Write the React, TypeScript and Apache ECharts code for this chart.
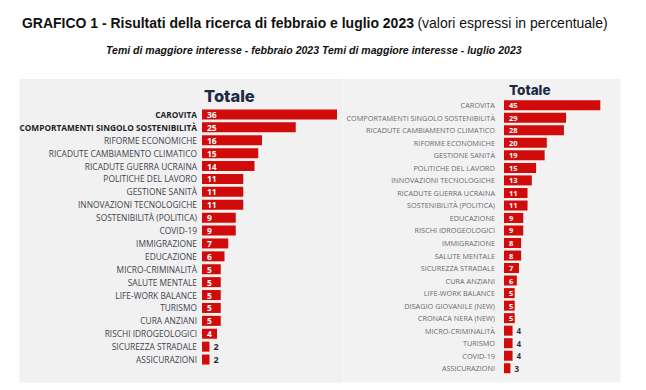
import React, { useEffect, useRef } from 'react';
import * as echarts from 'echarts';

const titleBold = 'GRAFICO 1 - Risultati della ricerca di febbraio e luglio 2023';
const titleNormal = '(valori espressi in percentuale)';
const subtitle = 'Temi di maggiore interesse - febbraio 2023 Temi di maggiore interesse - luglio 2023';
const panelTitle = 'Totale';

const leftCategories = [
  'CAROVITA', 'COMPORTAMENTI SINGOLO SOSTENIBILITÀ', 'RIFORME ECONOMICHE', 'RICADUTE CAMBIAMENTO CLIMATICO',
  'RICADUTE GUERRA UCRAINA', 'POLITICHE DEL LAVORO', 'GESTIONE SANITÀ', 'INNOVAZIONI TECNOLOGICHE',
  'SOSTENIBILITÀ (POLITICA)', 'COVID-19', 'IMMIGRAZIONE', 'EDUCAZIONE', 'MICRO-CRIMINALITÀ',
  'SALUTE MENTALE', 'LIFE-WORK BALANCE', 'TURISMO', 'CURA ANZIANI', 'RISCHI IDROGEOLOGICI',
  'SICUREZZA STRADALE', 'ASSICURAZIONI',
];
const leftValues = [36, 25, 16, 15, 14, 11, 11, 11, 9, 9, 7, 6, 5, 5, 5, 5, 5, 4, 2, 2];
const leftHighlighted = ['CAROVITA', 'COMPORTAMENTI SINGOLO SOSTENIBILITÀ'];

const rightCategories = [
  'CAROVITA', 'COMPORTAMENTI SINGOLO SOSTENIBILITÀ', 'RICADUTE CAMBIAMENTO CLIMATICO', 'RIFORME ECONOMICHE',
  'GESTIONE SANITÀ', 'POLITICHE DEL LAVORO', 'INNOVAZIONI TECNOLOGICHE', 'RICADUTE GUERRA UCRAINA',
  'SOSTENIBILITÀ (POLITICA)', 'EDUCAZIONE', 'RISCHI IDROGEOLOGICI', 'IMMIGRAZIONE', 'SALUTE MENTALE',
  'SICUREZZA STRADALE', 'CURA ANZIANI', 'LIFE-WORK BALANCE', 'DISAGIO GIOVANILE (NEW)',
  'CRONACA NERA (NEW)', 'MICRO-CRIMINALITÀ', 'TURISMO', 'COVID-19', 'ASSICURAZIONI',
];
const rightValues = [45, 29, 28, 20, 19, 15, 13, 11, 11, 9, 9, 8, 8, 7, 6, 5, 5, 5, 4, 4, 4, 3];

const RED = '#d10a0a';
const NAVY = '#1e2a44';
const LABEL_FONT = "'Open Sans', 'Noto Sans', sans-serif";
const TITLE_FONT = "'Liberation Sans', Arial, sans-serif";

// grid geometry
const L = { left: 202, top: 108, width: 150, height: 258, max: 40 };
const R = { left: 504, top: 99, width: 107, height: 275.5, max: 50 };

function barData(values: number[], pxPerUnit: number, fontSize: number) {
  return values.map((v) => {
    const inside = v * pxPerUnit >= 10;
    return {
      value: v,
      label: inside
        ? { position: 'insideLeft', distance: 5, color: '#ffffff', fontSize, fontWeight: 'bold' }
        : { position: 'right', distance: 4, color: '#2a3048', fontSize: fontSize + 0.5, fontWeight: 'bold' },
    };
  });
}

export default function App() {
  const ref = useRef<HTMLDivElement>(null);
  useEffect(() => {
    document.body.style.margin = '0';
    if (!ref.current) return;
    const chart = echarts.init(ref.current, undefined, { renderer: 'svg' });
    chart.setOption({
      animation: false,
      backgroundColor: '#ffffff',
      graphic: [
        { type: 'rect', z: -10, silent: true, shape: { x: 19.5, y: 79, width: 324, height: 303.5 }, style: { fill: '#f1f1f1' } },
        { type: 'rect', z: -10, silent: true, shape: { x: 343.5, y: 79, width: 277, height: 303.5 }, style: { fill: '#f2f2f2' } },
        {
          type: 'text', x: 22, y: 23, scaleX: 0.932,
          style: {
            text: `{b|${titleBold}} {n|${titleNormal}}`,
            verticalAlign: 'middle',
            rich: {
              b: { fontFamily: TITLE_FONT, fontWeight: 'bold', fontSize: 15, fill: '#111' },
              n: { fontFamily: TITLE_FONT, fontWeight: 'normal', fontSize: 15, fill: '#111' },
            },
          },
        },
        {
          type: 'text', x: 106, y: 50, scaleX: 0.916,
          style: {
            text: subtitle,
            verticalAlign: 'middle',
            fontFamily: TITLE_FONT,
            fontStyle: 'italic',
            fontWeight: 'bold',
            fontSize: 11.5,
            fill: '#111',
          },
        },
        {
          type: 'text', x: 204, y: 96,
          style: { text: panelTitle, fontFamily: "Inter, 'Noto Sans', sans-serif", fontWeight: 800, fontSize: 16.5, fill: NAVY, verticalAlign: 'middle' },
        },
        {
          type: 'text', x: 509, y: 89.5,
          style: { text: panelTitle, fontFamily: "Inter, 'Noto Sans', sans-serif", fontWeight: 800, fontSize: 13.5, fill: NAVY, verticalAlign: 'middle' },
        },
      ],
      grid: [
        { left: L.left, top: L.top, width: L.width, height: L.height },
        { left: R.left, top: R.top, width: R.width, height: R.height },
      ],
      xAxis: [
        { gridIndex: 0, type: 'value', min: 0, max: L.max, show: false },
        { gridIndex: 1, type: 'value', min: 0, max: R.max, show: false },
      ],
      yAxis: [
        {
          gridIndex: 0,
          type: 'category',
          inverse: true,
          data: leftCategories.map((c) =>
            leftHighlighted.includes(c)
              ? { value: c, textStyle: { fontWeight: 'bold', color: '#1f1f2a', fontSize: 8.3 } }
              : c
          ),
          axisLine: { show: false },
          axisTick: { show: false },
          splitLine: { show: false },
          axisLabel: { margin: 5, fontFamily: LABEL_FONT, fontSize: 8.4, color: '#43434e', fontWeight: 'normal' },
        },
        {
          gridIndex: 1,
          type: 'category',
          inverse: true,
          data: rightCategories,
          axisLine: { show: false },
          axisTick: { show: false },
          splitLine: { show: false },
          axisLabel: { margin: 9, fontFamily: LABEL_FONT, fontSize: 7.3, color: '#6a6a70', fontWeight: 'normal' },
        },
      ],
      series: [
        {
          type: 'bar',
          xAxisIndex: 0,
          yAxisIndex: 0,
          barWidth: 10,
          itemStyle: { color: RED },
          label: { show: true, fontFamily: LABEL_FONT },
          data: barData(leftValues, L.width / L.max, 8.5),
        },
        {
          type: 'bar',
          xAxisIndex: 1,
          yAxisIndex: 1,
          barWidth: 10,
          itemStyle: { color: RED },
          label: { show: true, fontFamily: LABEL_FONT },
          data: barData(rightValues, R.width / R.max, 7.5),
        },
      ],
    });
    return () => chart.dispose();
  }, []);
  return <div ref={ref} style={{ width: 646, height: 390 }} />;
}
